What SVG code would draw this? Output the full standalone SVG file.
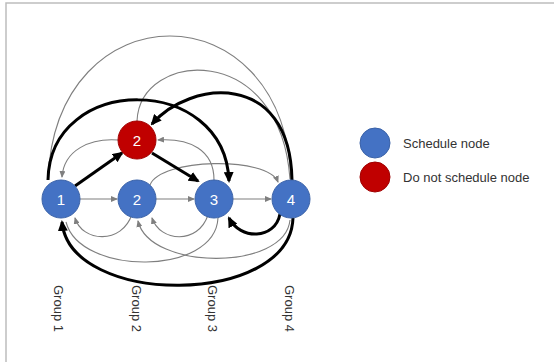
<svg xmlns="http://www.w3.org/2000/svg" width="554" height="362" viewBox="0 0 554 362">
<style>
.thin{fill:none;stroke:#7f7f7f;stroke-width:1.1}
.thick{fill:none;stroke:#000;stroke-width:3}
.nb{fill:#4472C4;stroke:#3A62A8;stroke-width:1}
.nr{fill:#C00000;stroke:#A00000;stroke-width:1}
.nl{font-family:"Liberation Sans",Arial,sans-serif;font-size:15px;fill:#fff;text-anchor:middle}
.lg{font-family:"Liberation Sans",Arial,sans-serif;font-size:13px;fill:#333}
</style>
<defs>
<marker id="at" markerUnits="userSpaceOnUse" markerWidth="7" markerHeight="6" refX="6" refY="3" orient="auto"><path d="M0,0 L7,3 L0,6 z" fill="#7f7f7f"/></marker>
<marker id="ak" markerUnits="userSpaceOnUse" markerWidth="11" markerHeight="10" refX="9" refY="5" orient="auto"><path d="M0,0 L11,5 L0,10 z" fill="#000"/></marker>
</defs>
<rect width="554" height="362" fill="#fff"/>
<path d="M6,362 L6,3 L554,3" fill="none" stroke="#bdbdbd" stroke-width="1.5"/>
<g id="connectors">
<path class="thin" d="M80,199 L117,199" marker-end="url(#at)"/>
<path class="thin" d="M156,199 L194,199" marker-end="url(#at)"/>
<path class="thin" d="M233,199 L271,199" marker-end="url(#at)"/>
<path class="thin" d="M118,140 C90,138 64,150 62,177" marker-end="url(#at)"/>
<path class="thin" d="M214,180 C214,150 190,138 158,140" marker-end="url(#at)"/>
<path class="thin" d="M150,185 C160,158 268,156 278,182" marker-end="url(#at)"/>
<path class="thin" d="M132,214 C122,245 82,242 75,218" marker-end="url(#at)"/>
<path class="thin" d="M208,215 C198,245 160,242 152,218" marker-end="url(#at)"/>
<path class="thin" d="M218,218 C215,276 80,276 66,222"/>
<path class="thin" d="M290,220 C285,271 150,271 138,221" marker-end="url(#at)"/>
<path class="thin" d="M48,180 C55,-12 285,-12 291,180"/>
<path class="thin" d="M137,121 C140,50 280,40 290,179"/>
<path class="thick" d="M75,186 L122,153" marker-end="url(#ak)"/>
<path class="thick" d="M152,153 L198,181" marker-end="url(#ak)"/>
<path class="thick" d="M48,180 C50,73 225,73 229,181" marker-end="url(#ak)"/>
<path class="thick" d="M292,180 C290,70 190,80 152,124" marker-end="url(#ak)"/>
<path class="thick" d="M280,214 C275,240 240,240 229,218" marker-end="url(#ak)"/>
<path class="thick" d="M293,218 C290,307 70,307 62,222" marker-end="url(#ak)"/>
</g>
<g id="node-g1-1"><circle class="nb" cx="61" cy="199" r="19"/><text class="nl" x="61" y="204.5">1</text></g>
<g id="node-g2-2"><circle class="nb" cx="137" cy="199" r="19"/><text class="nl" x="137" y="204.5">2</text></g>
<g id="node-g3-3"><circle class="nb" cx="214" cy="199" r="19"/><text class="nl" x="214" y="204.5">3</text></g>
<g id="node-g4-4"><circle class="nb" cx="291" cy="199" r="19"/><text class="nl" x="291" y="204.5">4</text></g>
<g id="node-red-2"><circle class="nr" cx="137" cy="140" r="19"/><text class="nl" x="137" y="145.5">2</text></g>
<g id="legend">
<circle class="nb" cx="375" cy="143" r="15"/>
<text class="lg" x="403" y="148">Schedule node</text>
<circle class="nr" cx="375" cy="177" r="15"/>
<text class="lg" x="403" y="182">Do not schedule node</text>
</g>
<g id="group-labels">
<text class="lg" transform="translate(54,285) rotate(90)">Group 1</text>
<text class="lg" transform="translate(132,285) rotate(90)">Group 2</text>
<text class="lg" transform="translate(208,285) rotate(90)">Group 3</text>
<text class="lg" transform="translate(285,285) rotate(90)">Group 4</text>
</g>
</svg>
